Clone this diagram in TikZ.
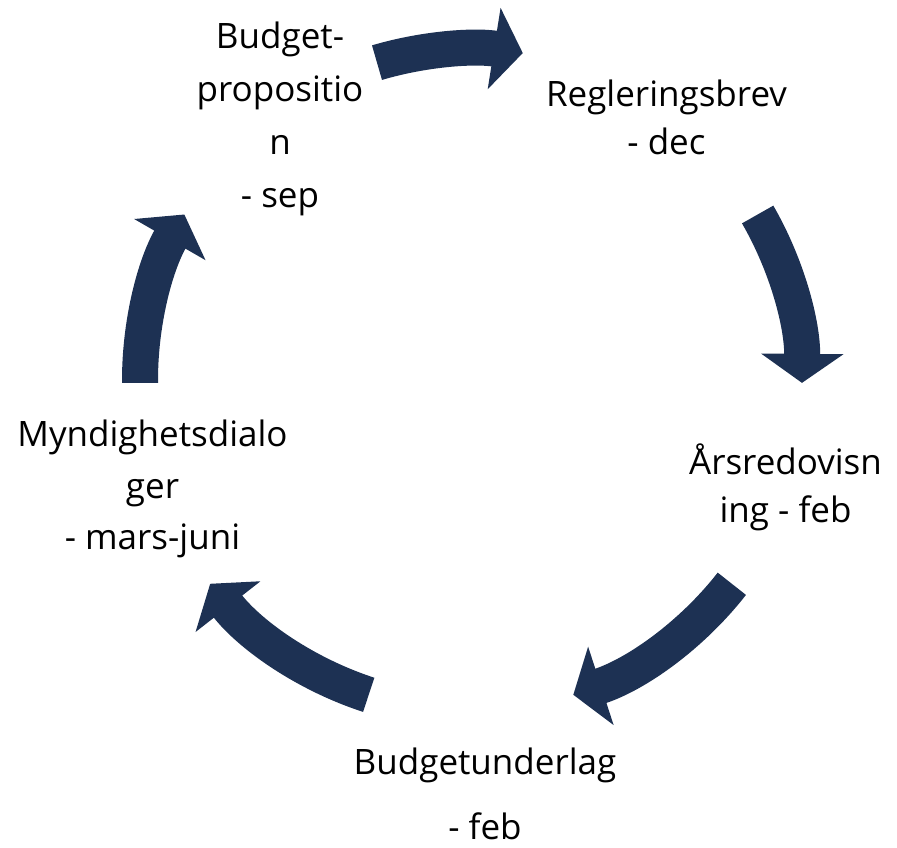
\documentclass[tikz,border=0pt]{standalone}
\usepackage{fontspec}
\setmainfont{Open Sans}
\usetikzlibrary{arrows.meta, calc}
\definecolor{cyclenavy}{RGB}{29,49,83}

\begin{document}
\begin{tikzpicture}[x=1pt, y=1pt, >=Triangle]
  % Define styles
  \tikzstyle{phase} = [align=center, inner sep=0pt, font=\fontsize{35}{48}\selectfont]
  \tikzstyle{cyclearrow} = [draw=cyclenavy, line width=36pt, -{Triangle[length=29pt, width=81pt]}]

  \useasboundingbox (0,0) rectangle (897,847);
  \coordinate (ctr) at (471,467);

  % Place nodes
  \node [phase] (budgetProp) at (280,728) {Budget-\\[5pt]propositio\\[5pt]n\\[5pt]- sep};
  \node [phase] (regBrev) at (666.5,730) {Regleringsbrev\\- dec};
  \node [phase] (arsRed) at (785.5,360) {Årsredovisn\\ing - feb};
  \node [phase] (budgetUnder) at (485,53) {Budgetunderlag\\[17pt]- feb};
  \node [phase] (myndDialog) at (152.5,358) {Myndighetsdialo\\[3.7pt]ger\\[3.7pt]- mars-juni};

  % Draw edges
  \foreach \from/\to [count=\i] in {106.5/81, 30/-0.5, -38/-72, -108/-142, 180.5/150} {
    \coordinate (tail\i) at ($(ctr)+(\from:331)$);
    \draw [cyclearrow] (tail\i) arc[start angle=\from, end angle=\to, radius=331];
  }
\end{tikzpicture}
\end{document}
